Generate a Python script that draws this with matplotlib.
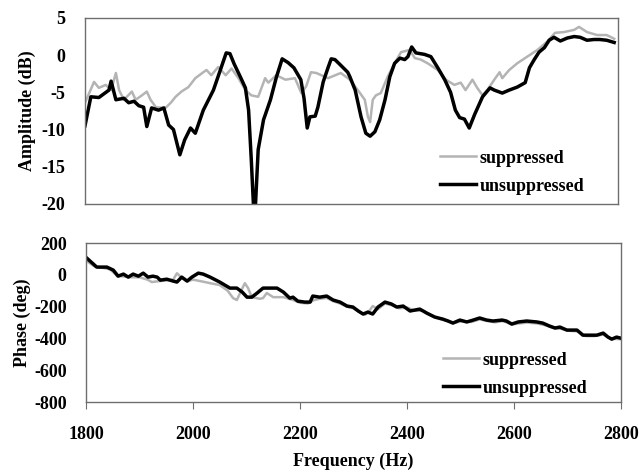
import numpy as np
import matplotlib
matplotlib.use('Agg')
import matplotlib.pyplot as plt

# amplitude, unsuppressed (black)
amp_unsup_f = [1800, 1811, 1826, 1845, 1849, 1858, 1873, 1882, 1892, 1901, 1910, 1916, 1925, 1938, 1948,
               1957, 1966, 1978, 1987, 1998, 2007, 2022, 2041, 2054, 2065, 2072, 2080, 2092, 2101, 2107,
               2112, 2116, 2120, 2125, 2135, 2148, 2159, 2170, 2181, 2192, 2205, 2211, 2217, 2222, 2232,
               2237, 2247, 2256, 2262, 2269, 2279, 2293, 2297, 2307, 2318, 2327, 2335, 2344, 2353, 2363,
               2372, 2381, 2391, 2400, 2406, 2413, 2421, 2437, 2449, 2462, 2475, 2486, 2495, 2503, 2512,
               2521, 2531, 2546, 2560, 2568, 2583, 2596, 2611, 2626, 2634, 2643, 2652, 2662, 2671, 2680,
               2692, 2705, 2718, 2729, 2742, 2755, 2766, 2779, 2793]
amp_unsup = [-9.5, -5.6, -5.7, -4.7, -3.5, -6.0, -5.8, -6.4, -6.2, -6.8, -7.0, -9.6, -7.1, -7.4, -7.1,
             -9.4, -10.0, -13.4, -11.4, -9.8, -10.5, -7.4, -4.7, -2.0, 0.3, 0.2, -1.2, -3.0, -4.4, -7.4,
             -14.0, -20.0, -20.0, -12.7, -8.7, -6.0, -3.0, -0.5, -1.0, -1.7, -3.3, -5.8, -9.8, -8.3, -8.2,
             -7.0, -3.6, -1.7, -0.5, -0.6, -1.3, -2.3, -2.9, -4.7, -8.3, -10.5, -10.9, -10.3, -8.7, -6.0,
             -2.9, -1.1, -0.4, -0.6, -0.2, 1.1, 0.3, 0.1, -0.2, -1.7, -3.3, -5.0, -7.4, -8.4, -8.6,
             -9.8, -8.0, -5.6, -4.4, -4.7, -5.1, -4.7, -4.3, -3.7, -1.7, -0.6, 0.4, 1.0, 2.0, 2.4,
             1.9, 2.3, 2.5, 2.4, 2.0, 2.1, 2.1, 2.0, 1.7]

# amplitude, suppressed (grey)
amp_sup_f = [1800, 1817, 1826, 1839, 1849, 1858, 1864, 1873, 1888, 1895, 1907, 1916, 1923, 1933, 1951,
             1961, 1970, 1981, 1994, 2007, 2022, 2028, 2037, 2050, 2064, 2075, 2088, 2101, 2112, 2125,
             2138, 2144, 2159, 2176, 2194, 2206, 2215, 2224, 2234, 2256, 2280, 2297, 2312, 2325, 2331,
             2335, 2340, 2346, 2355, 2368, 2381, 2393, 2409, 2419, 2430, 2443, 2462, 2477, 2493, 2505,
             2514, 2527, 2536, 2546, 2555, 2568, 2578, 2583, 2596, 2611, 2630, 2649, 2667, 2682, 2699,
             2718, 2727, 2742, 2761, 2779, 2793]
amp_sup = [-6.4, -3.6, -4.4, -4.0, -4.7, -2.4, -4.7, -6.0, -4.9, -6.0, -5.4, -4.9, -6.0, -7.0, -7.1,
           -6.4, -5.6, -4.9, -4.3, -3.1, -2.3, -2.0, -2.7, -1.6, -2.7, -1.8, -3.1, -4.7, -5.4, -5.6,
           -3.1, -3.7, -2.7, -3.3, -3.1, -5.1, -4.2, -2.3, -2.4, -3.1, -2.4, -3.3, -4.7, -6.0, -8.3,
           -9.0, -6.0, -5.4, -5.1, -2.9, -1.1, 0.4, 0.7, -0.4, -0.6, -1.1, -2.0, -3.3, -4.0, -3.7,
           -4.7, -3.3, -4.4, -5.4, -4.7, -3.3, -2.3, -3.1, -2.0, -1.1, -0.2, 0.7, 1.8, 3.0, 3.1,
           3.4, 3.8, 3.1, 2.7, 2.7, 2.2]

# phase, unsuppressed (black)
ph_unsup_f = [1800, 1820, 1839, 1851, 1860, 1870, 1879, 1888, 1898, 1907, 1916, 1925, 1933, 1939, 1951,
              1963, 1970, 1979, 1989, 1998, 2010, 2019, 2032, 2050, 2069, 2082, 2092, 2101, 2110, 2120,
              2131, 2144, 2157, 2169, 2181, 2187, 2196, 2209, 2219, 2224, 2237, 2250, 2262, 2275, 2288,
              2299, 2309, 2318, 2327, 2336, 2346, 2359, 2371, 2381, 2393, 2406, 2415, 2424, 2437, 2452,
              2467, 2477, 2486, 2499, 2512, 2524, 2536, 2549, 2561, 2578, 2586, 2596, 2608, 2624, 2643,
              2654, 2667, 2677, 2686, 2699, 2718, 2729, 2742, 2755, 2767, 2776, 2783, 2792, 2800]
ph_unsup = [110, 49, 49, 30, -8, 5, -14, 5, -8, 11, -14, -8, -14, -33, -27,
            -39, -45, -14, -39, -14, 11, 5, -14, -45, -83, -83, -108, -140, -140, -114,
            -83, -83, -83, -108, -146, -140, -165, -171, -171, -133, -140, -133, -158, -171, -196,
            -202, -227, -246, -234, -246, -202, -171, -183, -202, -196, -227, -221, -215, -240, -265,
            -278, -290, -303, -284, -296, -284, -271, -284, -290, -284, -290, -309, -296, -290, -296,
            -303, -322, -334, -328, -347, -347, -379, -379, -379, -366, -391, -404, -391, -398]

# phase, suppressed (grey)
ph_sup_f = [1800, 1815, 1830, 1845, 1858, 1870, 1885, 1900, 1915, 1923, 1935, 1950, 1963, 1970, 1978,
            1990, 2000, 2015, 2032, 2050, 2065, 2075, 2082, 2090, 2097, 2103, 2110, 2125, 2131, 2138,
            2150, 2169, 2187, 2200, 2215, 2225, 2237, 2250, 2262, 2275, 2288, 2300, 2312, 2322, 2330,
            2336, 2346, 2359, 2371, 2385, 2400, 2415, 2430, 2445, 2460, 2477, 2490, 2505, 2520, 2536,
            2550, 2565, 2580, 2596, 2610, 2625, 2643, 2660, 2675, 2690, 2705, 2720, 2735, 2750, 2767,
            2780, 2800]
ph_sup = [90, 55, 45, 35, -5, -10, -15, -15, -30, -45, -40, -35, -30, 10, -15,
          -40, -30, -40, -52, -64, -100, -146, -158, -100, -52, -83, -140, -150, -146, -114,
          -140, -140, -158, -175, -180, -160, -150, -145, -165, -180, -200, -210, -235, -250, -225,
          -196, -215, -180, -190, -210, -205, -225, -225, -255, -275, -292, -300, -290, -296, -280,
          -290, -298, -290, -312, -305, -300, -305, -318, -335, -340, -352, -355, -385, -385, -375,
          -400, -405]

x_ticks = [1800, 2000, 2200, 2400, 2600, 2800]

plt.rcParams['font.family'] = 'Liberation Serif'
plt.rcParams['font.weight'] = 'bold'
plt.rcParams['font.size'] = 13
plt.rcParams['axes.unicode_minus'] = False  # plain hyphen like the original

grey = '#b4b4b4'
frame = '#6e6e6e'

fig = plt.figure(figsize=(6.39, 4.72), dpi=100)
ax1 = fig.add_axes([0.133, 0.568, 0.834, 0.394])
ax2 = fig.add_axes([0.1346, 0.148, 0.837, 0.337])

def style_axes(ax):
    for s in ax.spines.values():
        s.set_color(frame)
        s.set_linewidth(1.0)
    ax.tick_params(axis='y', length=0, pad=14)
    ax.set_xlim(1800, 2800)

# top: amplitude
ax1.plot(amp_sup_f, amp_sup, color=grey, lw=1.8, label='suppressed')
ax1.plot(amp_unsup_f, amp_unsup, color='black', lw=2.5, label='unsuppressed', solid_joinstyle='round')
style_axes(ax1)
ax1.set_ylim(-20, 5)
ax1.set_yticks([5, 0, -5, -10, -15, -20])
ax1.set_xticks([])
ax1.set_ylabel('Amplitude (dB)', fontweight='bold', labelpad=4)
ax1.legend(loc='lower left', bbox_to_anchor=(0.666, 0.05), frameon=False, borderpad=0,
           borderaxespad=0, handlelength=2.0, handletextpad=0.2, labelspacing=0.6)

# bottom: phase
ax2.plot(ph_sup_f, ph_sup, color=grey, lw=1.8, label='suppressed')
ax2.plot(ph_unsup_f, ph_unsup, color='black', lw=2.5, label='unsuppressed', solid_joinstyle='round')
style_axes(ax2)
ax2.set_ylim(-800, 200)
ax2.set_yticks([200, 0, -200, -400, -600, -800])
ax2.set_xticks(x_ticks)
ax2.tick_params(axis='x', length=5, direction='out', color=frame, pad=12)
ax2.set_ylabel('Phase (deg)', fontweight='bold', labelpad=2)
ax2.set_xlabel('Frequency (Hz)', fontweight='bold', labelpad=7)
ax2.legend(loc='lower left', bbox_to_anchor=(0.667, 0.035), frameon=False, borderpad=0,
           borderaxespad=0, handlelength=2.0, handletextpad=0.2, labelspacing=0.6)

plt.savefig('out.png', dpi=100)
plt.close()
